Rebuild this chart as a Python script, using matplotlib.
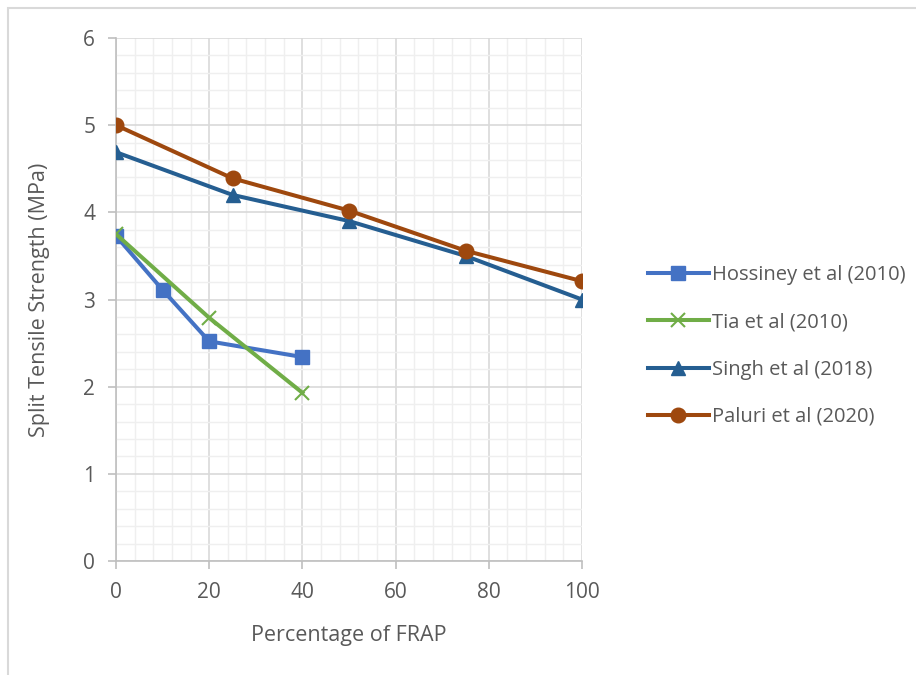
import matplotlib.pyplot as plt
from matplotlib.ticker import MultipleLocator
from matplotlib.patches import Rectangle

# FRAP content (%) and split tensile strength (MPa) for each study
hossiney_x = [0, 10, 20, 40]
hossiney_y = [3.73, 3.11, 2.52, 2.34]

tia_x = [0, 20, 40]
tia_y = [3.75, 2.79, 1.93]

singh_x = [0, 25, 50, 75, 100]
singh_y = [4.69, 4.2, 3.9, 3.5, 3.0]

paluri_x = [0, 25, 50, 75, 100]
paluri_y = [5.0, 4.39, 4.02, 3.56, 3.21]

text_color = '#595959'
plt.rcParams['font.family'] = ['Open Sans', 'DejaVu Sans']

fig = plt.figure(figsize=(9.16, 6.75), dpi=100)
ax = fig.add_axes([116 / 916, 114 / 675, 466 / 916, 523 / 675])

# light frame round the whole chart
fig.patches.append(Rectangle((8 / 916, -0.01), 1.2, 0.998, transform=fig.transFigure,
                             fill=False, edgecolor='#D9D9D9', linewidth=1.5))

ax.plot(hossiney_x, hossiney_y, color='#4472C4', linewidth=2.9, marker='s',
        markersize=9.5, label='Hossiney et al (2010)', zorder=3)
ax.plot(tia_x, tia_y, color='#70AD47', linewidth=2.9, marker='x',
        markersize=9.5, markeredgewidth=1.5, label='Tia et al (2010)', zorder=3)
ax.plot(singh_x, singh_y, color='#255E91', linewidth=2.9, marker='^',
        markersize=10.5, label='Singh et al (2018)', zorder=3)
ax.plot(paluri_x, paluri_y, color='#9E480E', linewidth=2.9, marker='o',
        markersize=10.5, label='Paluri et al (2020)', zorder=3)

ax.set_xlim(0, 100)
ax.set_ylim(0, 6)
ax.xaxis.set_major_locator(MultipleLocator(20))
ax.xaxis.set_minor_locator(MultipleLocator(4))
ax.yaxis.set_major_locator(MultipleLocator(1))
ax.yaxis.set_minor_locator(MultipleLocator(0.2))

ax.grid(which='major', color='#D9D9D9', linewidth=1.2)
ax.grid(which='minor', color='#EFEFEF', linewidth=1.0)
ax.set_axisbelow(True)

for side in ['top', 'right']:
    ax.spines[side].set_visible(False)
for side in ['left', 'bottom']:
    ax.spines[side].set_color('#BFBFBF')
    ax.spines[side].set_linewidth(1.2)

ax.tick_params(which='major', length=6, color='#BFBFBF', width=1.2,
               labelsize=15, labelcolor=text_color, pad=9)
ax.tick_params(which='minor', length=0)

ax.set_xlabel('Percentage of FRAP', fontsize=15.5, color=text_color, labelpad=16)
ax.set_ylabel('Split Tensile Strength (MPa)', fontsize=15.5, color=text_color, labelpad=24)

fig.legend(loc='center left', bbox_to_anchor=(630 / 916, 1 - 346 / 675), frameon=False,
           fontsize=14.5, labelcolor=text_color, handlelength=3.0, handletextpad=0.15,
           labelspacing=1.35)

fig.savefig('out.png', dpi=100)
